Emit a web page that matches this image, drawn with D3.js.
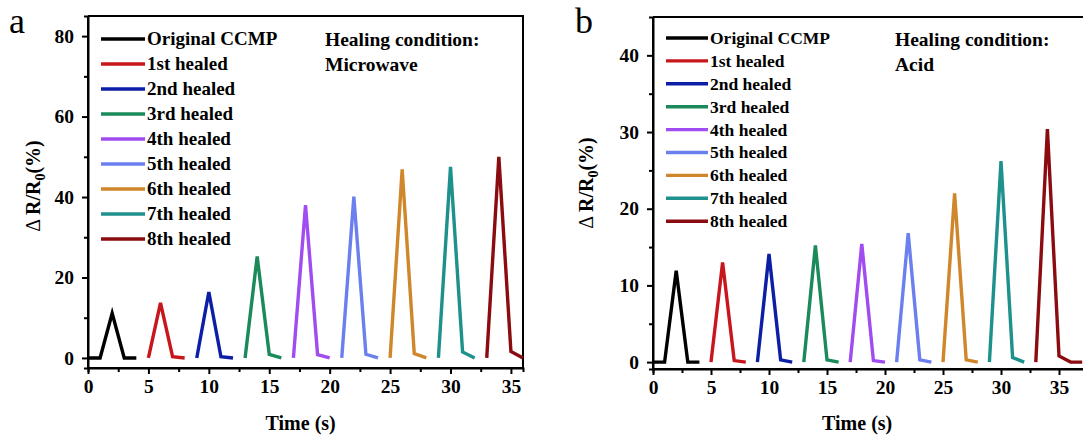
<!DOCTYPE html>
<html>
<head>
<meta charset="utf-8">
<script src="https://cdn.jsdelivr.net/npm/d3@7"></script>
<style>
  html, body { margin: 0; padding: 0; background: #fff; }
  svg { display: block; font-family: "Liberation Serif", "Times New Roman", serif; }
</style>
</head>
<body>
<div id="chart"></div>
<script>
// series labels and colours (same for both panels)
const seriesNames = ["Original CCMP", "1st healed", "2nd healed", "3rd healed", "4th healed",
  "5th healed", "6th healed", "7th healed", "8th healed"]
const seriesColors = ["#000000", "#c8161d", "#0d1ea6", "#1b8a5a", "#a04cf0",
  "#6b80ee", "#d0862a", "#1f918d", "#8a0c10"]

// panel a: microwave healing
const microwaveTimes = [[0, 1, 2, 3, 4], [5, 6, 7, 8], [9, 10, 11, 12], [13, 14, 15, 16], [17, 18, 19, 20],
  [21, 22, 23, 24], [25, 26, 27, 28], [29, 30, 31, 32], [33, 34, 35, 36]]
const microwaveValues = [[0, 0, 11.1, 0, 0], [0, 13.7, 0.3, 0], [0, 16.4, 0.3, 0], [0, 25.2, 0.9, 0], [0, 38, 0.8, 0],
  [0, 40.1, 0.9, 0], [0, 46.9, 1.1, 0], [0, 47.5, 1.5, 0], [0, 50, 1.6, 0]]
const microwaveYTicks = [0, 20, 40, 60, 80]
const microwaveYMinor = [10, 30, 50, 70]

// panel b: acid healing
const acidTimes = [[0, 1, 2, 3, 4], [5, 6, 7, 8], [9, 10, 11, 12], [13, 14, 15, 16], [17, 18, 19, 20],
  [21, 22, 23, 24], [25, 26, 27, 28], [29, 30, 31, 32], [33, 34, 35, 36, 37]]
const acidValues = [[0, 0, 11.9, 0, 0], [0, 13, 0.2, 0], [0, 14.1, 0.3, 0], [0, 15.2, 0.3, 0], [0, 15.4, 0.2, 0],
  [0, 16.8, 0.3, 0], [0, 22, 0.3, 0], [0, 26.2, 0.6, 0], [0, 30.4, 0.8, 0, 0]]
const acidYTicks = [0, 10, 20, 30, 40]
const acidYMinor = [5, 15, 25, 35]

const xTicks = [0, 5, 10, 15, 20, 25, 30, 35]
const xMinor = [2.5, 7.5, 12.5, 17.5, 22.5, 27.5, 32.5]

const svg = d3.select("#chart").append("svg").attr("width", 1083).attr("height", 441)

drawPanel({
  letter: "a", letterX: 9, left: 88, right: 523, top: 16, bottom: 368,
  xDomain: [0, 36], yDomain: [-2.5, 85],
  times: microwaveTimes, values: microwaveValues, yTicks: microwaveYTicks, yMinor: microwaveYMinor,
  legendX: 101, legendY: 39, legendStep: 25, legendFont: 19, legendLine: 44,
  condition: "Microwave", conditionX: 325, yTitleX: 40, yTitleY: 186
})
drawPanel({
  letter: "b", letterX: 575, left: 653, right: 1088, top: 17, bottom: 369,
  xDomain: [0, 37.5], yDomain: [-0.9, 45],
  times: acidTimes, values: acidValues, yTicks: acidYTicks, yMinor: acidYMinor,
  legendX: 666, legendY: 38, legendStep: 22.9, legendFont: 17.5, legendLine: 42,
  condition: "Acid", conditionX: 895, yTitleX: 593, yTitleY: 183
})

function drawPanel(p) {
  const x = d3.scaleLinear().domain(p.xDomain).range([p.left, p.right]),
    y = d3.scaleLinear().domain(p.yDomain).range([p.bottom, p.top])
  const g = svg.append("g")

  // frame top / right
  g.append("path").attr("fill", "none").attr("stroke", "#000").attr("stroke-width", 2)
    .attr("d", `M${p.left},${p.top}H${p.right}V${p.bottom}`)

  // minor ticks first, majors with labels on top
  g.append("g").attr("transform", `translate(0,${p.bottom})`)
    .call(d3.axisBottom(x).tickValues(xMinor).tickSize(4).tickFormat(""))
  g.append("g").attr("transform", `translate(${p.left},0)`)
    .call(d3.axisLeft(y).tickValues(p.yMinor).tickSize(4).tickFormat(""))
  const xAxis = g.append("g").attr("transform", `translate(0,${p.bottom})`)
    .call(d3.axisBottom(x).tickValues(xTicks).tickSize(6).tickSizeOuter(0).tickPadding(5))
  const yAxis = g.append("g").attr("transform", `translate(${p.left},0)`)
    .call(d3.axisLeft(y).tickValues(p.yTicks).tickSize(6).tickSizeOuter(0).tickPadding(8))

  g.selectAll(".domain").attr("stroke-width", 2)
  g.selectAll(".tick line").attr("stroke-width", 2)
  g.selectAll(".tick text").attr("font-family", "Liberation Serif").attr("font-size", 19.5)
    .attr("font-weight", "bold").attr("fill", "#000")
  xAxis.select(".domain").attr("d", `M${p.left},0H${p.right}`)
  yAxis.select(".domain").attr("d", `M0,${p.bottom}V${p.top}`)

  // data lines
  const line = d3.line().x(d => x(d[0])).y(d => y(d[1]))
  p.times.forEach((ts, i) => {
    const pts = ts.map((t, j) => [t, p.values[i][j]])
    g.append("path").datum(pts).attr("d", line).attr("fill", "none")
      .attr("stroke", seriesColors[i]).attr("stroke-width", 3.4).attr("stroke-linejoin", "miter")
  })

  // legend
  const legend = g.append("g").attr("class", "legend")
  seriesNames.forEach((name, i) => {
    const ly = p.legendY + i * p.legendStep
    legend.append("line").attr("x1", p.legendX).attr("x2", p.legendX + p.legendLine)
      .attr("y1", ly).attr("y2", ly).attr("stroke", seriesColors[i]).attr("stroke-width", 3.4)
    legend.append("text").attr("x", p.legendX + p.legendLine + 2).attr("y", ly).attr("dy", "0.34em")
      .attr("font-size", p.legendFont).attr("font-weight", "bold").text(name)
  })

  // healing condition note
  g.append("text").attr("x", p.conditionX).attr("y", 46).attr("font-size", 19.5)
    .attr("font-weight", "bold").text("Healing condition:")
  g.append("text").attr("x", p.conditionX).attr("y", 71).attr("font-size", 19.5)
    .attr("font-weight", "bold").text(p.condition)

  // axis titles
  g.append("text").attr("x", x(17.6)).attr("y", 430).attr("text-anchor", "middle")
    .attr("font-size", 20).attr("font-weight", "bold").text("Time (s)")
  const yt = g.append("text").attr("transform", `translate(${p.yTitleX},${p.yTitleY}) rotate(-90)`)
    .attr("text-anchor", "middle").attr("font-size", 20).attr("font-weight", "bold")
  yt.append("tspan").attr("font-weight", "normal").text("\u0394 ")
  yt.append("tspan").text("R/R")
  yt.append("tspan").attr("font-size", 14).attr("dy", 5).text("0")
  yt.append("tspan").attr("dy", -5).text("(%)")

  // panel letter
  g.append("text").attr("x", p.letterX).attr("y", 33).attr("font-size", 36).text(p.letter)
}
</script>
</body>
</html>
